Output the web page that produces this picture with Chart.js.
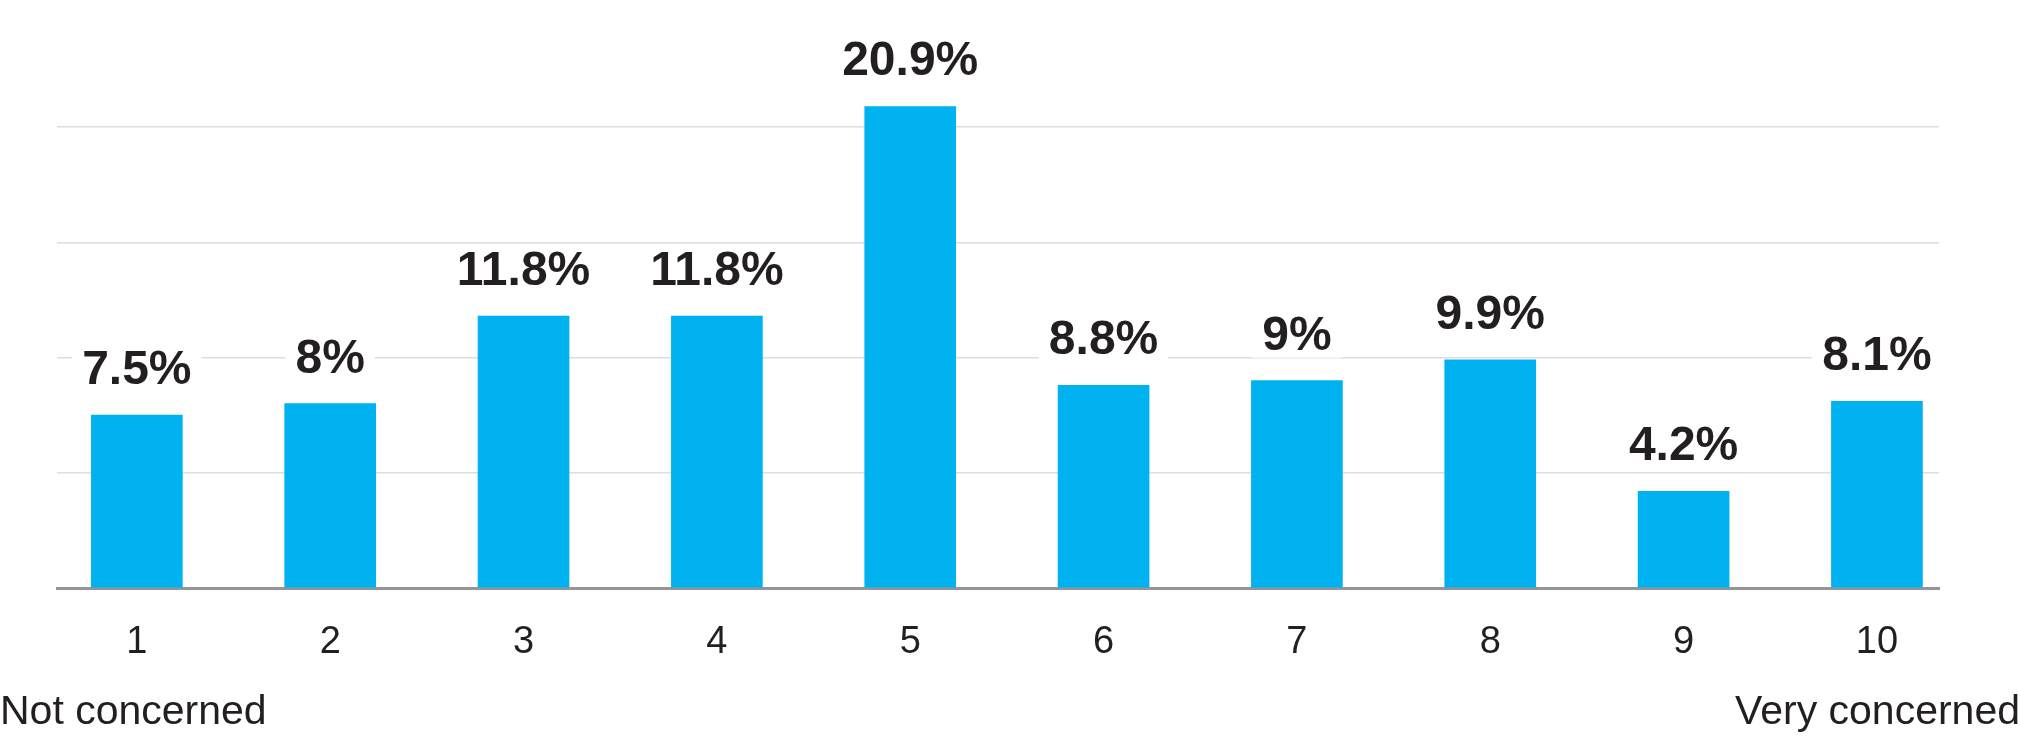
<!DOCTYPE html>
<html>
<head>
<meta charset="utf-8">
<script src="https://cdn.jsdelivr.net/npm/chart.js@4/dist/chart.umd.min.js"></script>
<style>
  html, body { margin: 0; padding: 0; background: #ffffff; }
  #wrap { width: 2020px; height: 744px; position: relative; }
</style>
</head>
<body>
<div id="wrap"><canvas id="c" width="2020" height="744"></canvas></div>
<script>
const categories = [1, 2, 3, 4, 5, 6, 7, 8, 9, 10];
const values = [7.5, 8, 11.8, 11.8, 20.9, 8.8, 9, 9.9, 4.2, 8.1];
const valueLabels = ["7.5%", "8%", "11.8%", "11.8%", "20.9%", "8.8%", "9%", "9.9%", "4.2%", "8.1%"];
const gridValues = [5, 10, 15, 20];
const leftNote = "Not concerned";
const rightNote = "Very concerned";

const TEXT = '#231f20';
const FONT = '"Liberation Sans", Arial, Helvetica, sans-serif';

const valueLabelPlugin = {
  id: 'valueLabels',
  afterDatasetsDraw(chart) {
    const ctx = chart.ctx;
    const meta = chart.getDatasetMeta(0);
    ctx.save();
    ctx.font = 'bold 48px ' + FONT;
    ctx.textAlign = 'center';
    ctx.textBaseline = 'alphabetic';
    meta.data.forEach((bar, i) => {
      const txt = valueLabels[i];
      const w = ctx.measureText(txt).width;
      const by = bar.y - 31;
      ctx.fillStyle = '#ffffff';
      ctx.fillRect(bar.x - w / 2 - 10, by - 40, w + 20, 48);
      ctx.fillStyle = TEXT;
      ctx.fillText(txt, bar.x, by);
    });
    ctx.restore();
  }
};

const notesPlugin = {
  id: 'notes',
  afterDraw(chart) {
    const ctx = chart.ctx;
    ctx.save();
    ctx.font = '41px ' + FONT;
    ctx.fillStyle = TEXT;
    ctx.textBaseline = 'alphabetic';
    ctx.textAlign = 'left';
    ctx.fillText(leftNote, 0, 724);
    ctx.textAlign = 'right';
    ctx.fillText(rightNote, chart.width, 724);
    ctx.restore();
  }
};

new Chart(document.getElementById('c'), {
  type: 'bar',
  data: {
    datasets: [{
      data: categories.map((c, i) => ({ x: c, y: values[i] })),
      backgroundColor: '#00b3f0',
      borderWidth: 0,
      barThickness: 91
    }]
  },
  options: {
    responsive: false,
    animation: false,
    events: [],
    layout: { padding: { left: 57, right: 81, top: 12, bottom: 0 } },
    plugins: { legend: { display: false }, tooltip: { enabled: false } },
    scales: {
      x: {
        type: 'linear',
        offset: false,
        min: 0.587,
        max: 10.321,
        afterBuildTicks: s => { s.ticks = categories.map(v => ({ value: v })); },
        afterFit: s => { s.height = 156; },
        grid: { display: false, drawTicks: false, offset: false },
        border: { display: true, color: '#939598', width: 3 },
        ticks: {
          padding: 32,
          autoSkip: false,
          maxRotation: 0,
          color: TEXT,
          font: { family: FONT, size: 38 },
          callback: v => String(v)
        }
      },
      y: {
        min: 0,
        max: 25,
        afterBuildTicks: s => { s.ticks = [0].concat(gridValues).map(v => ({ value: v })); },
        afterFit: s => { s.width = 0; },
        ticks: { display: false },
        border: { display: false },
        grid: {
          drawTicks: false,
          lineWidth: 1.5,
          color: c => (c.tick && gridValues.includes(c.tick.value)) ? '#dcdddf' : 'rgba(0,0,0,0)'
        }
      }
    }
  },
  plugins: [valueLabelPlugin, notesPlugin]
});
</script>
</body>
</html>
